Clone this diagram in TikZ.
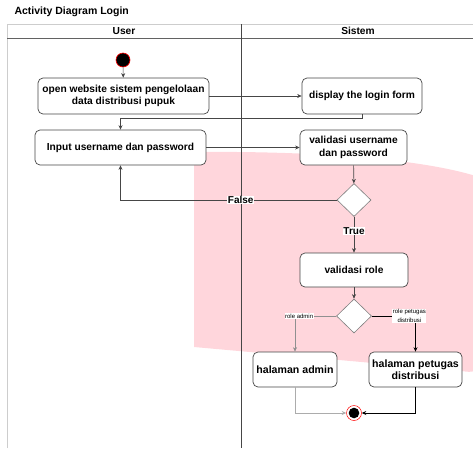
\documentclass[tikz,border=0pt]{standalone}
\usepackage{fontspec}
\setmainfont{Liberation Sans}
\usetikzlibrary{shapes.geometric,arrows.meta}
\definecolor{blush}{RGB}{255,214,220}
\definecolor{edge}{RGB}{70,70,70}
\definecolor{lanegrey}{RGB}{205,205,205}
\tikzset{
  act/.style={draw=edge, fill=white, rounded corners=5pt, line width=0.7pt,
    align=center, inner sep=2pt, font=\fontsize{10.2}{12.5}\selectfont\bfseries},
  choice/.style={diamond, draw=edge!70, fill=white, line width=0.6pt,
    minimum width=34pt, minimum height=33pt, inner sep=0pt},
  flow/.style={draw=edge, line width=0.6pt, -{Stealth[length=4.5pt,width=4pt]}},
  guard/.style={fill=white, inner sep=0.5pt, font=\fontsize{10}{12}\selectfont\bfseries},
  smallguard/.style={fill=white, inner sep=0.5pt, align=center,
    font=\fontsize{6}{8.5}\selectfont},
}
\begin{document}
\begin{tikzpicture}[x=1pt,y=-1pt]
\useasboundingbox (0,0) rectangle (473,448);

% highlighted region behind the system lane
\begin{scope}
  \clip (0,0) rectangle (473,448);
  \fill[blush] (194,152) .. controls (300,151) and (420,157) .. (482,178)
    -- (482,360) .. controls (480,372) and (472,373) .. (462,371)
    -- (194,347) -- cycle;
\end{scope}

% title
\node[anchor=west, font=\fontsize{10.5}{12}\selectfont\bfseries] (title) at (11,12) {Activity Diagram Login};

% swimlanes
\draw[lanegrey, line width=0.8pt] (7,448) -- (7,24) -- (473,24);
\draw[edge!85, line width=0.7pt] (7,38) -- (473,38);
\draw[edge, line width=0.8pt] (241,24) -- (241,448);
\node[font=\fontsize{10.2}{12}\selectfont\bfseries] (laneU) at (124,31) {User};
\node[font=\fontsize{10.2}{12}\selectfont\bfseries] (laneS) at (358,31) {Sistem};

% start
\node[circle, fill=black, draw=red, line width=0.6pt, minimum size=14pt, inner sep=0pt] (start) at (123,60) {};

% activities
\node[act, minimum width=171pt, minimum height=36pt] (open) at (123.5,96)
  {open website sistem pengelolaan\\data distribusi pupuk};
\node[act, minimum width=120pt, minimum height=36pt] (form) at (362,96)
  {display the login form};
\node[act, minimum width=171pt, minimum height=35pt] (input) at (120.5,147.5)
  {Input username dan password};
\node[act, minimum width=107pt, minimum height=35pt] (valid) at (353.5,147.5)
  {validasi username\\dan password};
\node[choice] (d1) at (354,200) {};
\node[act, minimum width=108pt, minimum height=34pt] (role) at (354,270)
  {validasi role};
\node[choice, minimum width=35pt, minimum height=34pt] (d2) at (354,316) {};
\node[act, minimum width=84pt, minimum height=35pt, font=\fontsize{10.6}{12.5}\selectfont\bfseries] (admin) at (295,369.5)
  {halaman admin};
\node[act, minimum width=93pt, minimum height=35pt, font=\fontsize{10.6}{12.5}\selectfont\bfseries] (petugas) at (415.5,369.5)
  {halaman petugas\\distribusi};

% end
\node[circle, draw=red, fill=white, line width=0.5pt, minimum size=15pt, inner sep=0pt,
  path picture={\fill[black] (path picture bounding box.center) circle (5.3pt);}] (end) at (354,413) {};

% flows
\draw[flow] (start) -- (open);
\draw[flow] (open) -- (form);
\coordinate (back) at (362,118);
\draw[flow] (form.south) -- (back) -| (input.north);
\draw[flow] (input) -- (valid);
\draw[flow] (valid) -- (d1);
\draw[flow] (d1.west) -| node[guard, pos=0.222] {False} (input.south);
\draw[flow] (d1.south) -- node[guard, pos=0.4] {True} (role.north);
\draw[flow] (role) -- (d2);
\draw[flow, draw=edge!60] (d2.west) -| node[smallguard, pos=0.45] {role admin} (admin.north);
\draw[flow, draw=black] (d2.east) -| node[smallguard, pos=0.43] {role petugas\\distribusi} (petugas.north);
\draw[flow, draw=edge!45] (admin.south) |- (end.west);
\draw[flow, draw=black] (petugas.south) |- (end.east);
\end{tikzpicture}
\end{document}
